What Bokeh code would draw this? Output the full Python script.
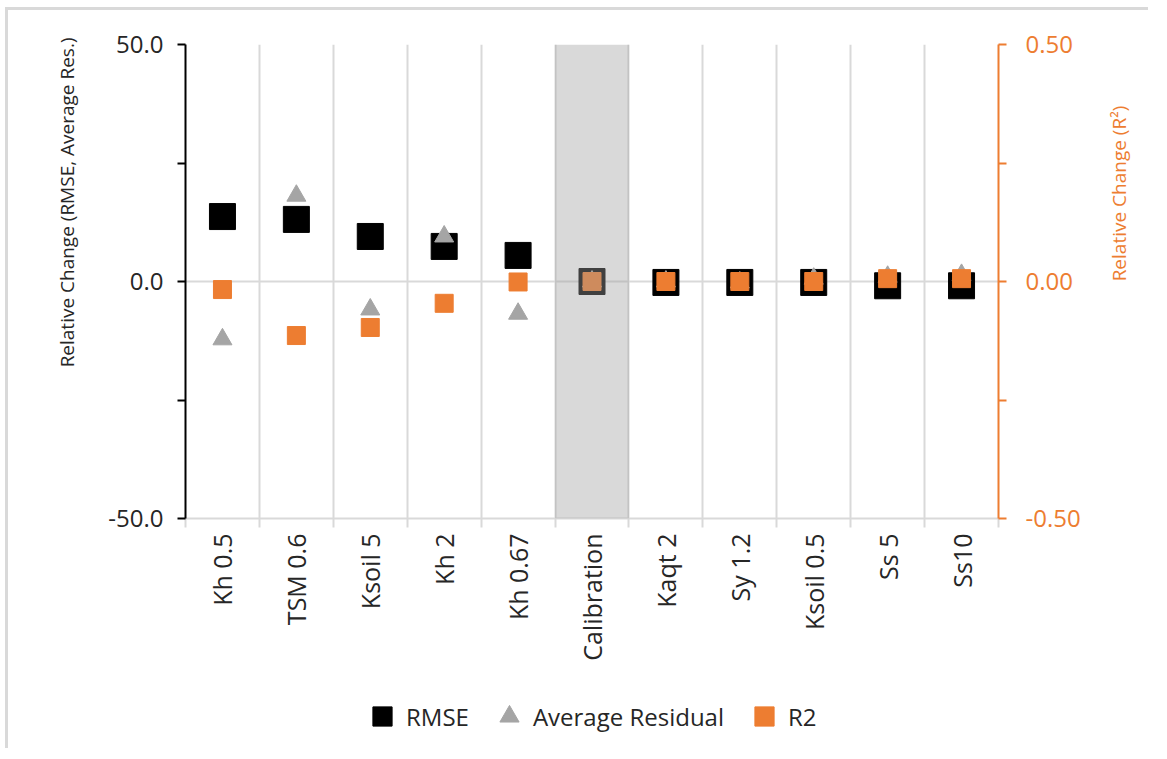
import math
from bokeh.plotting import figure
from bokeh.layouts import column
from bokeh.models import (LinearAxis, Range1d, FixedTicker, BoxAnnotation, Legend, LegendItem,
                          ColumnDataSource, PrintfTickFormatter, Label, Title)
from bokeh.embed import file_html
from bokeh.resources import INLINE

categories = ["Kh 0.5", "TSM 0.6", "Ksoil 5", "Kh 2", "Kh 0.67", "Calibration",
              "Kaqt 2", "Sy 1.2", "Ksoil 0.5", "Ss 5", "Ss10"]
rmse = [13.7, 13.1, 9.5, 7.4, 5.5, 0.0, -0.2, -0.2, -0.2, -0.9, -0.9]
avg_residual = [-12.2, 18.1, -5.9, 9.5, -6.8, 0.0, 0.0, -0.2, 0.6, 1.0, 1.4]
r2 = [-0.017, -0.114, -0.097, -0.046, -0.001, 0.0, 0.0, 0.0, 0.0, 0.006, 0.006]
left_ticks = [-50, 0, 50]
left_minor = [-25, 25]
right_ticks = [-0.5, 0.0, 0.5]
right_minor = [-0.25, 0.25]
series_names = ["RMSE", "Average Residual", "R2"]

ORANGE = "#ED7D31"
GRID = "#D9D9D9"
GRAYMK = "#A5A5A5"
FONT = "Open Sans"
TXT = "#262626"

xc = [i + 0.5 for i in range(len(categories))]
src = ColumnDataSource(dict(x=xc, rmse=rmse, avg=avg_residual, r2=r2))

p = figure(frame_width=813, frame_height=474, x_range=Range1d(0, len(categories)),
           y_range=Range1d(-50, 50), output_backend="svg", toolbar_location=None,
           x_axis_location=None, y_axis_location=None,
           min_border_left=177, min_border_top=34, min_border_right=150,
           min_border_bottom=170, outline_line_color=None)

p.extra_y_ranges = {"r2": Range1d(-0.5, 0.5)}

yl = LinearAxis(ticker=FixedTicker(ticks=left_ticks, minor_ticks=left_minor))
yl.formatter = PrintfTickFormatter(format="%.1f")
yl.axis_line_color = "black"
yl.axis_line_width = 2
yl.major_tick_line_color = "black"
yl.minor_tick_line_color = "black"
yl.major_tick_line_width = 2
yl.minor_tick_line_width = 2
yl.major_tick_out = 8
yl.major_tick_in = 0
yl.minor_tick_out = 8
yl.minor_tick_in = 0
yl.major_label_text_font = FONT
yl.major_label_text_font_size = "24px"
yl.major_label_text_color = TXT
yl.major_label_standoff = 14
p.add_layout(yl, "left")

yr = LinearAxis(y_range_name="r2", ticker=FixedTicker(ticks=right_ticks, minor_ticks=right_minor))
yr.formatter = PrintfTickFormatter(format="%.2f")
yr.axis_line_color = ORANGE
yr.axis_line_width = 2
yr.major_tick_line_color = ORANGE
yr.minor_tick_line_color = ORANGE
yr.major_tick_line_width = 2
yr.minor_tick_line_width = 2
yr.major_tick_out = 8
yr.major_tick_in = 0
yr.minor_tick_out = 8
yr.minor_tick_in = 0
yr.major_label_text_font = FONT
yr.major_label_text_font_size = "24px"
yr.major_label_text_color = ORANGE
yr.major_label_standoff = 19
p.add_layout(yr, "right")

xb = LinearAxis(ticker=FixedTicker(ticks=xc, minor_ticks=list(range(len(categories) + 1))))
xb.major_label_overrides = {x: c for x, c in zip(xc, categories)}
xb.major_label_orientation = math.pi / 2
xb.axis_line_color = GRID
xb.axis_line_width = 2
xb.major_tick_line_color = None
xb.minor_tick_line_color = GRID
xb.minor_tick_line_width = 2
xb.minor_tick_out = 9
xb.minor_tick_in = 0
xb.major_label_text_font = FONT
xb.major_label_text_font_size = "25px"
xb.major_label_text_color = TXT
xb.major_label_standoff = 6
p.add_layout(xb, "below")

# axis titles
p.add_layout(Title(text="Relative Change (RMSE, Average Res.)", align="right", offset=-7,
                   standoff=51, text_font=FONT, text_font_size="19px",
                   text_font_style="normal", text_color=TXT), "left")
p.add_layout(Label(x=35, y=325, x_units="screen", y_units="screen", angle=math.pi / 2,
                   text="Relative Change (R\u00b2)", text_align="center",
                   text_baseline="middle", text_font=FONT, text_font_size="19px",
                   text_color=ORANGE), "right")

# grids
p.xgrid.ticker = FixedTicker(ticks=list(range(len(categories) + 1)))
p.ygrid.ticker = FixedTicker(ticks=left_ticks)
p.xgrid.grid_line_color = GRID
p.ygrid.grid_line_color = GRID
p.xgrid.grid_line_width = 2
p.ygrid.grid_line_width = 2

# series
p.scatter("x", "rmse", source=src, marker="square", size=26,
          fill_color="black", line_color="black")
p.scatter("x", "avg", source=src, marker="triangle", size=19,
          fill_color=GRAYMK, line_color=GRAYMK)
p.scatter("x", "r2", source=src, y_range_name="r2", marker="square", size=18,
          fill_color=ORANGE, line_color=ORANGE)

cal = categories.index("Calibration")
p.add_layout(BoxAnnotation(left=cal, right=cal + 1, fill_color=(160, 160, 160),
                           fill_alpha=0.4, line_color=None))

# legend strip (separate small figure below the chart; its series renderers
# share the data but lie outside that strip's visible range)
lf = figure(width=1140, height=60, x_range=Range1d(-3, -2), y_range=Range1d(-1, 1),
            output_backend="svg", toolbar_location=None,
            x_axis_location=None, y_axis_location=None, min_border=0,
            outline_line_color=None)
lf.grid.visible = False
lr1 = lf.scatter("x", "rmse", source=src, marker="square",
                 fill_color="black", line_color="black")
lr2 = lf.scatter("x", "avg", source=src, marker="triangle",
                 fill_color=GRAYMK, line_color=GRAYMK)
lr3 = lf.scatter("x", "r2", source=src, marker="square",
                 fill_color=ORANGE, line_color=ORANGE)
legend = Legend(items=[LegendItem(label=series_names[0], renderers=[lr1]),
                       LegendItem(label=series_names[1], renderers=[lr2]),
                       LegendItem(label=series_names[2], renderers=[lr3])],
                orientation="horizontal", location=(173, 8))
legend.label_text_font = FONT
legend.label_text_font_size = "24px"
legend.label_text_color = TXT
legend.glyph_width = 48
legend.glyph_height = 48
legend.spacing = 16
legend.label_standoff = 0
legend.border_line_color = None
legend.background_fill_alpha = 0
legend.margin = 0
legend.padding = 0
lf.add_layout(legend, "center")

page = column(p, lf, spacing=0)
page.styles = {"margin-left": "5px", "margin-top": "7px",
               "border-top": "3px solid #D9D9D9", "border-left": "3px solid #D9D9D9"}

open("out.html", "w").write(file_html(page, INLINE))
